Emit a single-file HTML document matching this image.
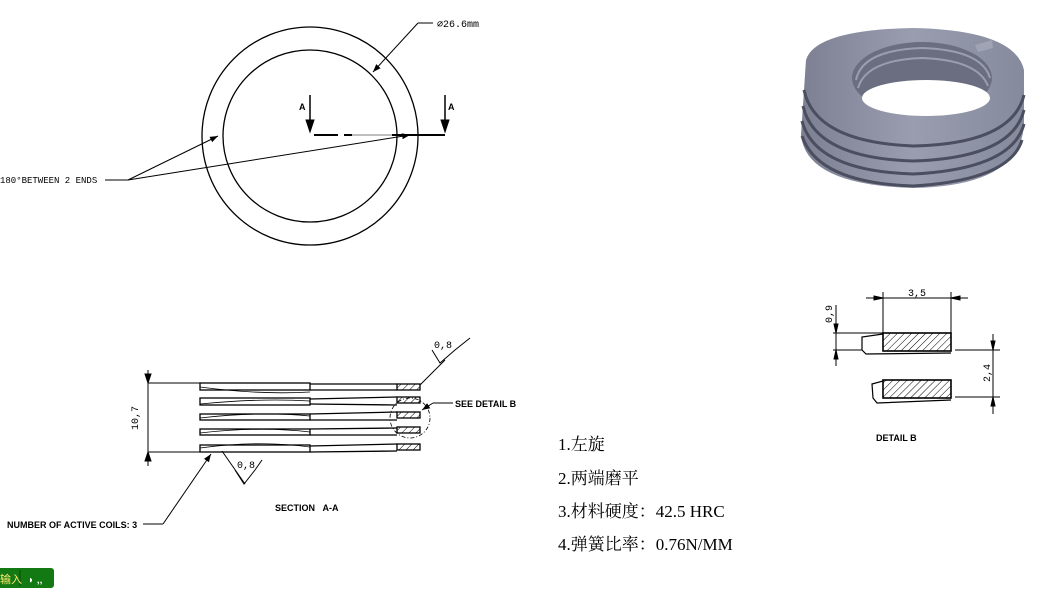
<!DOCTYPE html>
<html><head><meta charset="utf-8"><style>
body{margin:0;background:#fff;width:1051px;height:606px;overflow:hidden}
svg{display:block}
.t{font-family:"Liberation Sans",sans-serif;font-weight:bold;font-size:9px}
.m{font-family:"Liberation Mono",monospace;font-size:10px}
.z{font-family:"Liberation Serif","Noto Serif CJK SC",serif;font-size:17px}
</style></head><body>
<svg width="1051" height="606" viewBox="0 0 1051 606" xmlns="http://www.w3.org/2000/svg">
<defs>
<pattern id="h" width="5" height="5" patternUnits="userSpaceOnUse" patternTransform="rotate(45)"><line x1="0" y1="0" x2="0" y2="5" stroke="#000" stroke-width="1"/></pattern>
<marker id="a" markerWidth="8" markerHeight="6" refX="8" refY="3" orient="auto"><path d="M0,0L8,3L0,6z" fill="#000"/></marker>
<linearGradient id="g" x1="0" y1="0" x2="1" y2="0"><stop offset="0" stop-color="#7c8092"/><stop offset="0.5" stop-color="#999daf"/><stop offset="1" stop-color="#858a9c"/></linearGradient>
</defs>
<g fill="none" stroke="#000" stroke-width="1.3">
<ellipse cx="310" cy="136" rx="108" ry="109"/>
<ellipse cx="310" cy="136" rx="87" ry="86"/>
</g>
<g stroke="#000" stroke-width="1">
<line x1="418" y1="23" x2="433" y2="23"/><line x1="418" y1="23" x2="373" y2="72" marker-end="url(#a)"/>
<line x1="128" y1="180" x2="105" y2="180"/>
<line x1="128" y1="180" x2="218" y2="136" marker-end="url(#a)"/>
<line x1="128" y1="180" x2="410" y2="135" marker-end="url(#a)"/>
<line x1="310" y1="95" x2="310" y2="130" stroke-width="1.5"/><path d="M306,120L310,132L314,120z"/>
<line x1="445" y1="95" x2="445" y2="130" stroke-width="1.5"/><path d="M441,120L445,132L449,120z"/>
<path d="M314,135H338M344,135H352M392,135H445" stroke-width="2"/>
<line x1="352" y1="135" x2="392" y2="135" stroke-width="0.6"/>
</g>
<text x="437" y="27" class="m">⌀26.6mm</text>
<text x="0" y="183" class="m" style="font-size:9px">180°BETWEEN 2 ENDS</text>
<text x="299" y="110" class="t">A</text><text x="448" y="110" class="t">A</text>
<g>
<path d="M806,60 Q815,30 913,28 Q1015,30 1024,70 L1024,125 Q1020,186 913,188 Q806,185 801,135z" fill="url(#g)"/>
<g stroke="#4a4e5e" stroke-width="3" fill="none">
<path d="M804,90 Q815,142 913,146 Q1012,144 1024,95"/>
<path d="M803,106 Q815,158 913,161 Q1012,158 1024,110"/>
<path d="M802,121 Q815,171 913,174 Q1012,169 1024,124"/>
<path d="M802,136 Q818,183 913,186 Q1010,180 1022,140"/>
</g>
<ellipse cx="922" cy="78" rx="70" ry="36" fill="#6a6e80"/>
<g stroke="#9a9eb0" stroke-width="2" fill="none">
<path d="M856,80 Q862,50 922,48 Q982,50 990,78"/>
<path d="M858,88 Q866,60 922,58 Q978,60 988,86"/>
</g>
<ellipse cx="926" cy="98" rx="64" ry="18" fill="#fff"/>
<path d="M975,45 L992,40 L993,48 L978,52z" fill="#a0a4b4"/>
</g>
<g stroke="#000" stroke-width="1" fill="none">
<line x1="148" y1="383" x2="200" y2="383"/><line x1="148" y1="452" x2="200" y2="452"/>
<line x1="148" y1="370" x2="148" y2="466"/>
<path d="M145,374L148,383L151,374z M145,461L148,452L151,461z" fill="#000"/>
<g stroke-width="1.3">
<rect x="200" y="383" width="110" height="7"/><rect x="200" y="398" width="110" height="7"/><rect x="200" y="414" width="110" height="6"/><rect x="200" y="429" width="110" height="6"/><rect x="200" y="445" width="110" height="7"/>
<path d="M310,384L397,384M310,390L397,390M310,399L397,397M310,404L397,405M310,414L397,412M310,420L397,420M310,429L397,428M310,435L397,435M310,446L397,444M310,452L397,451"/>
</g>
<g stroke-width="1.3" fill="url(#h)">
<rect x="397" y="384" width="23" height="6"/><rect x="397" y="397" width="23" height="6"/><rect x="397" y="412" width="23" height="6"/><rect x="397" y="427" width="23" height="6"/><rect x="397" y="444" width="23" height="6"/>
</g>
<path d="M200,387Q260,395 310,392M200,404Q260,398 310,401M200,418Q260,411 310,416M200,433Q260,426 310,432M200,448Q260,440 310,447" stroke-width="0.8"/>
<circle cx="410" cy="418" r="20" stroke-dasharray="4,2,1,2" stroke-width="0.8"/>
<line x1="420" y1="385" x2="445" y2="360"/><path d="M432,350L440,363L455,350M455,350L470,338"/>
<line x1="453" y1="403" x2="433" y2="403"/><line x1="433" y1="403" x2="422" y2="410" marker-end="url(#a)"/>
<line x1="222" y1="451" x2="245" y2="484"/><path d="M235,470L244,484L255,470"/><path d="M255,470L262,460"/>
<line x1="143" y1="524" x2="163" y2="524"/><line x1="163" y1="524" x2="211" y2="454" marker-end="url(#a)"/>
</g>
<text x="138" y="430" class="m" transform="rotate(-90 138 430)">10,7</text>
<text x="434" y="348" class="m">0,8</text>
<text x="237" y="468" class="m">0,8</text>
<text x="455" y="407" class="t">SEE DETAIL B</text>
<text x="275" y="511" class="t">SECTION &#160;&#160;A-A</text>
<text x="7" y="528" class="t">NUMBER OF ACTIVE COILS: 3</text>
<g stroke="#000" stroke-width="1" fill="none">
<rect x="883" y="333" width="68" height="18" fill="url(#h)" stroke-width="1.6"/>
<rect x="883" y="380" width="68" height="18" fill="url(#h)" stroke-width="1.6"/>
<path d="M883,334L862,337L862,350L866,354L951,353" stroke-width="1.2"/>
<path d="M883,381L872,384L873,398L877,403L951,400" stroke-width="1.2"/>
<line x1="883" y1="333" x2="883" y2="292"/><line x1="951" y1="333" x2="951" y2="292"/>
<line x1="866" y1="298" x2="968" y2="298"/>
<path d="M874,296L883,298L874,300z M960,296L951,298L960,300z" fill="#000"/>
<line x1="833" y1="333" x2="883" y2="333"/><line x1="833" y1="350" x2="862" y2="350"/>
<line x1="836" y1="305" x2="836" y2="366"/>
<path d="M834,324L836,333L838,324z M834,359L836,350L838,359z" fill="#000"/>
<line x1="955" y1="350" x2="1000" y2="350"/><line x1="955" y1="397" x2="1000" y2="397"/>
<line x1="993" y1="334" x2="993" y2="414"/>
<path d="M991,341L993,350L995,341z M991,406L993,397L995,406z" fill="#000"/>
</g>
<text x="908" y="296" class="m">3,5</text>
<text x="832" y="323" class="m" transform="rotate(-90 832 323)">0,9</text>
<text x="990" y="382" class="m" transform="rotate(-90 990 382)">2,4</text>
<text x="876" y="441" class="t">DETAIL B</text>
<text x="558" y="450" class="z">1.左旋</text>
<text x="558" y="484" class="z">2.两端磨平</text>
<text x="558" y="517" class="z">3.材料硬度：42.5 HRC</text>
<text x="558" y="550" class="z">4.弹簧比率：0.76N/MM</text>
<rect x="-4" y="568" width="58" height="20" rx="3" fill="#137a13"/>
<line x1="20" y1="570" x2="20" y2="586" stroke="#0a4a0a"/>
<text x="0" y="583" style="font-family:'Noto Sans CJK SC',sans-serif;font-size:11px" fill="#ffea70">输入</text>
<text x="28" y="583" style="font-family:'Liberation Sans',sans-serif;font-size:10px;font-weight:bold" fill="#fff">◗ ‚‚</text>
</svg>
</body></html>
